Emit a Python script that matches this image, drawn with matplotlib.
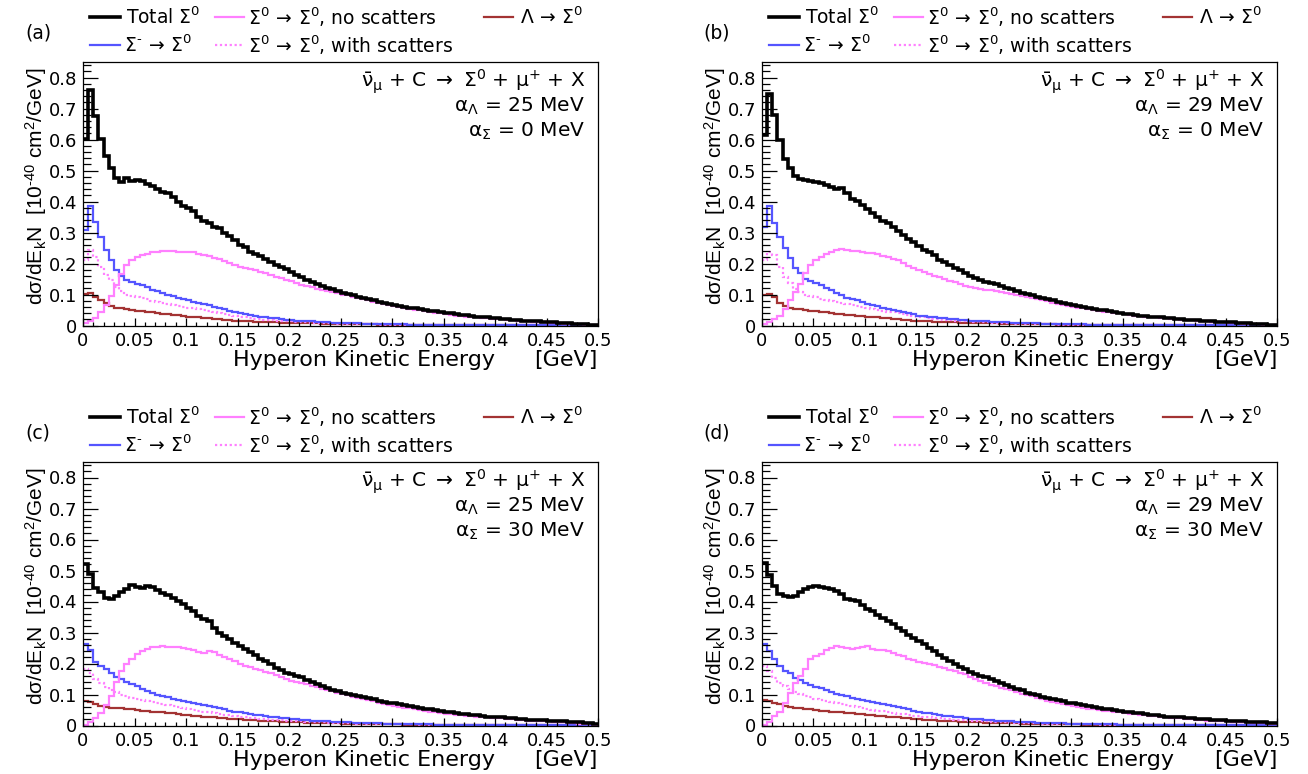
import numpy as np
import matplotlib
matplotlib.use("Agg")
import matplotlib.pyplot as plt
from matplotlib.lines import Line2D
from matplotlib.ticker import MultipleLocator, FuncFormatter

plt.rcParams['font.family'] = ['DejaVu Sans']
plt.rcParams['mathtext.fontset'] = 'dejavusans'
plt.rcParams['mathtext.default'] = 'regular'
plt.rcParams['mathtext.rm'] = 'Liberation Sans'
plt.rcParams['mathtext.it'] = 'Liberation Sans:italic'
plt.rcParams['mathtext.bf'] = 'Liberation Sans:bold'

# ---------------- data (100 bins of 5 MeV from 0 to 0.5 GeV) ----------------
bin_edges = np.linspace(0.0, 0.5, 101)

total_a = [
0.602, 0.760, 0.676, 0.602, 0.548, 0.508, 0.476, 0.462, 0.476, 0.465,
0.470, 0.465, 0.457, 0.451, 0.440, 0.432, 0.427, 0.414, 0.400, 0.386,
0.378, 0.368, 0.351, 0.338, 0.332, 0.319, 0.314, 0.297, 0.289, 0.276,
0.259, 0.252, 0.238, 0.232, 0.224, 0.215, 0.204, 0.196, 0.189, 0.181,
0.173, 0.164, 0.155, 0.148, 0.141, 0.134, 0.127, 0.122, 0.117, 0.111,
0.106, 0.102, 0.097, 0.093, 0.090, 0.085, 0.081, 0.077, 0.073, 0.070,
0.067, 0.064, 0.061, 0.058, 0.056, 0.053, 0.050, 0.048, 0.046, 0.044,
0.041, 0.039, 0.037, 0.035, 0.033, 0.031, 0.029, 0.028, 0.026, 0.025,
0.024, 0.022, 0.021, 0.019, 0.018, 0.016, 0.015, 0.014, 0.013, 0.012,
0.011, 0.010, 0.009, 0.008, 0.007, 0.006, 0.005, 0.004, 0.003, 0.003]
nosc_a = [
0.008, 0.015, 0.025, 0.045, 0.065, 0.095, 0.130, 0.165, 0.195, 0.212,
0.222, 0.228, 0.232, 0.236, 0.238, 0.240, 0.240, 0.239, 0.238, 0.237,
0.238, 0.236, 0.232, 0.228, 0.223, 0.218, 0.213, 0.207, 0.201, 0.195,
0.190, 0.186, 0.183, 0.178, 0.173, 0.168, 0.163, 0.158, 0.152, 0.147,
0.142, 0.136, 0.131, 0.127, 0.123, 0.119, 0.115, 0.111, 0.108, 0.104,
0.100, 0.097, 0.093, 0.089, 0.085, 0.081, 0.077, 0.073, 0.070, 0.066,
0.062, 0.059, 0.056, 0.053, 0.051, 0.049, 0.046, 0.044, 0.041, 0.039,
0.036, 0.034, 0.032, 0.030, 0.029, 0.027, 0.026, 0.025, 0.023, 0.022,
0.021, 0.020, 0.018, 0.017, 0.016, 0.014, 0.013, 0.012, 0.011, 0.010,
0.009, 0.008, 0.007, 0.006, 0.005, 0.005, 0.004, 0.003, 0.003, 0.002]
withsc_a = [
0.210, 0.243, 0.222, 0.190, 0.162, 0.146, 0.124, 0.110, 0.100, 0.096,
0.092, 0.088, 0.084, 0.080, 0.077, 0.073, 0.070, 0.067, 0.064, 0.061,
0.058, 0.055, 0.052, 0.049, 0.046, 0.043, 0.040, 0.036, 0.033, 0.030,
0.028, 0.026, 0.024, 0.022, 0.020, 0.019, 0.017, 0.016, 0.015, 0.014,
0.013, 0.012, 0.011, 0.010, 0.009, 0.009, 0.008, 0.007, 0.007, 0.006,
0.006, 0.005, 0.005, 0.005, 0.004, 0.004, 0.004, 0.003, 0.003, 0.003,
0.003, 0.003, 0.002, 0.002, 0.002, 0.002, 0.002, 0.002, 0.002, 0.002,
0.001, 0.001, 0.001, 0.001, 0.001, 0.001, 0.001, 0.001, 0.001, 0.001,
0.001, 0.001, 0.001, 0.001, 0.001, 0.001, 0.001, 0.001, 0.001, 0.001,
0.001, 0.001, 0.001, 0.001, 0.001, 0.000, 0.000, 0.000, 0.000, 0.000]
sigm_a = [
0.308, 0.386, 0.335, 0.286, 0.243, 0.210, 0.178, 0.159, 0.146, 0.140,
0.135, 0.130, 0.124, 0.116, 0.110, 0.105, 0.099, 0.094, 0.090, 0.085,
0.081, 0.077, 0.073, 0.069, 0.065, 0.061, 0.057, 0.053, 0.048, 0.044,
0.040, 0.037, 0.034, 0.031, 0.029, 0.027, 0.025, 0.023, 0.021, 0.019,
0.017, 0.016, 0.015, 0.014, 0.013, 0.012, 0.011, 0.010, 0.009, 0.009,
0.008, 0.008, 0.007, 0.007, 0.006, 0.006, 0.005, 0.005, 0.005, 0.004,
0.004, 0.004, 0.004, 0.003, 0.003, 0.003, 0.003, 0.003, 0.002, 0.002,
0.002, 0.002, 0.002, 0.002, 0.002, 0.002, 0.001, 0.001, 0.001, 0.001,
0.001, 0.001, 0.001, 0.001, 0.001, 0.001, 0.001, 0.001, 0.001, 0.001,
0.001, 0.001, 0.001, 0.000, 0.000, 0.000, 0.000, 0.000, 0.000, 0.000]
lam_a = [
0.103, 0.106, 0.092, 0.081, 0.072, 0.062, 0.058, 0.055, 0.052, 0.050,
0.048, 0.046, 0.044, 0.042, 0.040, 0.038, 0.036, 0.034, 0.033, 0.031,
0.029, 0.028, 0.026, 0.025, 0.023, 0.022, 0.020, 0.018, 0.017, 0.016,
0.015, 0.014, 0.013, 0.012, 0.012, 0.011, 0.010, 0.010, 0.009, 0.009,
0.009, 0.008, 0.008, 0.007, 0.007, 0.007, 0.006, 0.006, 0.006, 0.005,
0.005, 0.005, 0.005, 0.004, 0.004, 0.004, 0.004, 0.003, 0.003, 0.003,
0.003, 0.003, 0.003, 0.002, 0.002, 0.002, 0.002, 0.002, 0.002, 0.002,
0.002, 0.002, 0.002, 0.002, 0.002, 0.002, 0.002, 0.002, 0.002, 0.002,
0.001, 0.001, 0.001, 0.001, 0.001, 0.001, 0.001, 0.001, 0.001, 0.001,
0.001, 0.001, 0.001, 0.001, 0.001, 0.000, 0.000, 0.000, 0.000, 0.000]

total_b = [
0.616, 0.746, 0.678, 0.600, 0.537, 0.508, 0.481, 0.472, 0.468, 0.465,
0.462, 0.459, 0.454, 0.446, 0.440, 0.443, 0.427, 0.408, 0.403, 0.389,
0.375, 0.362, 0.349, 0.338, 0.330, 0.319, 0.306, 0.292, 0.278, 0.268,
0.257, 0.245, 0.238, 0.226, 0.212, 0.204, 0.196, 0.187, 0.178, 0.170,
0.161, 0.153, 0.146, 0.141, 0.137, 0.133, 0.127, 0.122, 0.117, 0.112,
0.106, 0.101, 0.097, 0.093, 0.089, 0.085, 0.081, 0.076, 0.072, 0.069,
0.065, 0.062, 0.059, 0.057, 0.054, 0.051, 0.049, 0.046, 0.044, 0.041,
0.038, 0.036, 0.034, 0.032, 0.031, 0.029, 0.027, 0.026, 0.024, 0.023,
0.022, 0.021, 0.019, 0.018, 0.017, 0.015, 0.014, 0.013, 0.012, 0.011,
0.011, 0.010, 0.009, 0.008, 0.007, 0.006, 0.005, 0.004, 0.003, 0.003]
nosc_b = [
0.005, 0.010, 0.020, 0.032, 0.054, 0.081, 0.108, 0.135, 0.168, 0.195,
0.211, 0.222, 0.230, 0.238, 0.243, 0.246, 0.242, 0.239, 0.241, 0.238,
0.235, 0.233, 0.230, 0.225, 0.220, 0.216, 0.210, 0.202, 0.192, 0.186,
0.180, 0.172, 0.165, 0.160, 0.155, 0.150, 0.145, 0.140, 0.134, 0.129,
0.125, 0.121, 0.118, 0.115, 0.113, 0.110, 0.107, 0.104, 0.102, 0.098,
0.095, 0.092, 0.088, 0.085, 0.081, 0.078, 0.074, 0.070, 0.067, 0.064,
0.061, 0.058, 0.055, 0.052, 0.050, 0.047, 0.045, 0.043, 0.041, 0.039,
0.036, 0.034, 0.032, 0.031, 0.029, 0.027, 0.026, 0.024, 0.023, 0.022,
0.021, 0.019, 0.018, 0.017, 0.016, 0.014, 0.013, 0.012, 0.011, 0.010,
0.009, 0.008, 0.007, 0.006, 0.005, 0.005, 0.004, 0.003, 0.003, 0.002]
withsc_b = [
0.211, 0.238, 0.227, 0.190, 0.157, 0.137, 0.119, 0.108, 0.100, 0.095,
0.091, 0.087, 0.083, 0.079, 0.076, 0.072, 0.069, 0.066, 0.063, 0.060,
0.057, 0.054, 0.051, 0.048, 0.045, 0.042, 0.039, 0.036, 0.033, 0.030,
0.028, 0.026, 0.024, 0.022, 0.020, 0.019, 0.017, 0.016, 0.015, 0.014,
0.013, 0.012, 0.011, 0.010, 0.009, 0.009, 0.008, 0.007, 0.007, 0.006,
0.006, 0.005, 0.005, 0.005, 0.004, 0.004, 0.004, 0.003, 0.003, 0.003,
0.003, 0.003, 0.002, 0.002, 0.002, 0.002, 0.002, 0.002, 0.002, 0.002,
0.001, 0.001, 0.001, 0.001, 0.001, 0.001, 0.001, 0.001, 0.001, 0.001,
0.001, 0.001, 0.001, 0.001, 0.001, 0.001, 0.001, 0.001, 0.001, 0.001,
0.001, 0.001, 0.001, 0.001, 0.001, 0.000, 0.000, 0.000, 0.000, 0.000]
sigm_b = [
0.319, 0.384, 0.332, 0.286, 0.249, 0.219, 0.184, 0.168, 0.151, 0.144,
0.137, 0.130, 0.122, 0.114, 0.105, 0.098, 0.090, 0.085, 0.081, 0.076,
0.070, 0.066, 0.062, 0.058, 0.054, 0.050, 0.046, 0.043, 0.040, 0.036,
0.032, 0.030, 0.028, 0.027, 0.025, 0.023, 0.022, 0.020, 0.019, 0.017,
0.016, 0.015, 0.014, 0.013, 0.012, 0.011, 0.010, 0.010, 0.009, 0.008,
0.008, 0.008, 0.007, 0.007, 0.006, 0.006, 0.005, 0.005, 0.005, 0.004,
0.004, 0.004, 0.004, 0.003, 0.003, 0.003, 0.003, 0.003, 0.002, 0.002,
0.002, 0.002, 0.002, 0.002, 0.002, 0.002, 0.001, 0.001, 0.001, 0.001,
0.001, 0.001, 0.001, 0.001, 0.001, 0.001, 0.001, 0.001, 0.001, 0.001,
0.001, 0.001, 0.001, 0.000, 0.000, 0.000, 0.000, 0.000, 0.000, 0.000]
lam_b = [
0.097, 0.103, 0.092, 0.072, 0.062, 0.057, 0.054, 0.052, 0.050, 0.048,
0.046, 0.044, 0.042, 0.040, 0.038, 0.037, 0.035, 0.033, 0.032, 0.030,
0.029, 0.027, 0.026, 0.024, 0.023, 0.021, 0.020, 0.018, 0.017, 0.016,
0.015, 0.014, 0.013, 0.012, 0.012, 0.011, 0.010, 0.010, 0.009, 0.009,
0.009, 0.008, 0.008, 0.007, 0.007, 0.007, 0.006, 0.006, 0.006, 0.005,
0.005, 0.005, 0.005, 0.004, 0.004, 0.004, 0.004, 0.003, 0.003, 0.003,
0.003, 0.003, 0.003, 0.002, 0.002, 0.002, 0.002, 0.002, 0.002, 0.002,
0.002, 0.002, 0.002, 0.002, 0.002, 0.002, 0.002, 0.002, 0.002, 0.002,
0.001, 0.001, 0.001, 0.001, 0.001, 0.001, 0.001, 0.001, 0.001, 0.001,
0.001, 0.001, 0.001, 0.001, 0.001, 0.000, 0.000, 0.000, 0.000, 0.000]

total_c = [
0.520, 0.488, 0.445, 0.431, 0.412, 0.407, 0.418, 0.431, 0.441, 0.452,
0.448, 0.445, 0.450, 0.448, 0.437, 0.428, 0.420, 0.412, 0.402, 0.391,
0.380, 0.369, 0.353, 0.342, 0.337, 0.315, 0.299, 0.288, 0.280, 0.267,
0.256, 0.248, 0.237, 0.226, 0.215, 0.208, 0.197, 0.186, 0.179, 0.170,
0.166, 0.161, 0.155, 0.148, 0.140, 0.133, 0.127, 0.121, 0.115, 0.111,
0.106, 0.102, 0.099, 0.095, 0.091, 0.088, 0.084, 0.080, 0.077, 0.074,
0.071, 0.068, 0.065, 0.062, 0.059, 0.057, 0.054, 0.052, 0.050, 0.047,
0.044, 0.042, 0.040, 0.038, 0.036, 0.034, 0.033, 0.031, 0.029, 0.028,
0.027, 0.026, 0.024, 0.023, 0.022, 0.021, 0.019, 0.018, 0.017, 0.017,
0.016, 0.015, 0.014, 0.013, 0.012, 0.011, 0.010, 0.009, 0.007, 0.005]
nosc_c = [
0.003, 0.012, 0.025, 0.040, 0.065, 0.095, 0.140, 0.175, 0.200, 0.215,
0.230, 0.240, 0.248, 0.252, 0.253, 0.255, 0.254, 0.253, 0.252, 0.250,
0.247, 0.243, 0.238, 0.235, 0.240, 0.237, 0.228, 0.222, 0.215, 0.208,
0.200, 0.192, 0.188, 0.183, 0.178, 0.173, 0.168, 0.162, 0.156, 0.150,
0.145, 0.141, 0.137, 0.133, 0.128, 0.124, 0.119, 0.115, 0.110, 0.106,
0.101, 0.097, 0.093, 0.089, 0.085, 0.081, 0.078, 0.074, 0.070, 0.067,
0.064, 0.061, 0.058, 0.055, 0.052, 0.050, 0.047, 0.045, 0.042, 0.040,
0.038, 0.036, 0.034, 0.033, 0.031, 0.030, 0.029, 0.027, 0.026, 0.025,
0.024, 0.023, 0.021, 0.020, 0.019, 0.018, 0.016, 0.015, 0.014, 0.013,
0.013, 0.012, 0.011, 0.010, 0.009, 0.008, 0.006, 0.005, 0.004, 0.003]
withsc_c = [
0.181, 0.170, 0.149, 0.138, 0.125, 0.114, 0.108, 0.100, 0.095, 0.089,
0.086, 0.082, 0.078, 0.075, 0.071, 0.068, 0.065, 0.062, 0.059, 0.056,
0.053, 0.050, 0.047, 0.045, 0.042, 0.040, 0.037, 0.035, 0.033, 0.031,
0.029, 0.027, 0.025, 0.024, 0.022, 0.021, 0.019, 0.018, 0.017, 0.016,
0.015, 0.014, 0.013, 0.012, 0.011, 0.011, 0.010, 0.009, 0.009, 0.008,
0.008, 0.007, 0.007, 0.006, 0.006, 0.006, 0.005, 0.005, 0.005, 0.004,
0.004, 0.004, 0.004, 0.004, 0.004, 0.003, 0.003, 0.003, 0.003, 0.003,
0.003, 0.003, 0.002, 0.002, 0.002, 0.002, 0.002, 0.002, 0.002, 0.002,
0.002, 0.002, 0.002, 0.002, 0.001, 0.001, 0.001, 0.001, 0.001, 0.001,
0.001, 0.001, 0.001, 0.001, 0.001, 0.001, 0.001, 0.001, 0.001, 0.000]
sigm_c = [
0.262, 0.245, 0.205, 0.192, 0.181, 0.168, 0.157, 0.149, 0.141, 0.135,
0.127, 0.118, 0.111, 0.105, 0.100, 0.095, 0.091, 0.086, 0.082, 0.079,
0.075, 0.072, 0.069, 0.066, 0.063, 0.060, 0.056, 0.052, 0.048, 0.045,
0.042, 0.039, 0.037, 0.035, 0.033, 0.031, 0.029, 0.027, 0.025, 0.023,
0.021, 0.020, 0.019, 0.018, 0.016, 0.015, 0.014, 0.013, 0.012, 0.011,
0.010, 0.010, 0.009, 0.009, 0.008, 0.008, 0.007, 0.007, 0.006, 0.006,
0.006, 0.005, 0.005, 0.005, 0.004, 0.004, 0.004, 0.004, 0.003, 0.003,
0.003, 0.003, 0.003, 0.003, 0.002, 0.002, 0.002, 0.002, 0.002, 0.002,
0.002, 0.002, 0.002, 0.001, 0.001, 0.001, 0.001, 0.001, 0.001, 0.001,
0.001, 0.001, 0.001, 0.001, 0.001, 0.001, 0.001, 0.001, 0.000, 0.000]
lam_c = [
0.079, 0.076, 0.068, 0.062, 0.060, 0.058, 0.057, 0.056, 0.054, 0.052,
0.050, 0.048, 0.046, 0.045, 0.043, 0.042, 0.040, 0.039, 0.037, 0.035,
0.034, 0.032, 0.031, 0.029, 0.028, 0.026, 0.025, 0.023, 0.022, 0.021,
0.020, 0.019, 0.018, 0.017, 0.016, 0.015, 0.014, 0.013, 0.012, 0.012,
0.011, 0.010, 0.010, 0.009, 0.009, 0.008, 0.008, 0.007, 0.007, 0.007,
0.006, 0.006, 0.006, 0.005, 0.005, 0.005, 0.005, 0.004, 0.004, 0.004,
0.004, 0.004, 0.003, 0.003, 0.003, 0.003, 0.003, 0.003, 0.003, 0.003,
0.002, 0.002, 0.002, 0.002, 0.002, 0.002, 0.002, 0.002, 0.002, 0.002,
0.002, 0.002, 0.001, 0.001, 0.001, 0.001, 0.001, 0.001, 0.001, 0.001,
0.001, 0.001, 0.001, 0.001, 0.001, 0.001, 0.001, 0.000, 0.000, 0.000]

total_d = [
0.525, 0.484, 0.450, 0.423, 0.418, 0.414, 0.418, 0.431, 0.441, 0.448,
0.450, 0.448, 0.445, 0.441, 0.434, 0.423, 0.409, 0.405, 0.402, 0.388,
0.377, 0.369, 0.358, 0.348, 0.337, 0.326, 0.315, 0.305, 0.292, 0.282,
0.272, 0.262, 0.250, 0.240, 0.229, 0.219, 0.208, 0.197, 0.190, 0.181,
0.174, 0.167, 0.161, 0.155, 0.149, 0.143, 0.137, 0.131, 0.125, 0.119,
0.113, 0.106, 0.102, 0.098, 0.093, 0.089, 0.085, 0.081, 0.078, 0.074,
0.072, 0.069, 0.066, 0.063, 0.059, 0.057, 0.054, 0.052, 0.050, 0.047,
0.044, 0.042, 0.040, 0.039, 0.037, 0.035, 0.033, 0.031, 0.029, 0.028,
0.027, 0.026, 0.024, 0.023, 0.022, 0.021, 0.020, 0.019, 0.018, 0.017,
0.016, 0.015, 0.014, 0.013, 0.012, 0.012, 0.011, 0.010, 0.009, 0.009]
nosc_d = [
0.003, 0.010, 0.030, 0.045, 0.073, 0.105, 0.138, 0.160, 0.181, 0.213,
0.224, 0.232, 0.245, 0.250, 0.256, 0.254, 0.251, 0.248, 0.251, 0.254,
0.256, 0.248, 0.245, 0.243, 0.240, 0.235, 0.229, 0.224, 0.215, 0.210,
0.206, 0.202, 0.198, 0.194, 0.190, 0.184, 0.180, 0.175, 0.170, 0.165,
0.158, 0.150, 0.144, 0.138, 0.132, 0.127, 0.122, 0.118, 0.114, 0.109,
0.103, 0.098, 0.094, 0.089, 0.084, 0.080, 0.076, 0.073, 0.069, 0.066,
0.063, 0.060, 0.057, 0.054, 0.052, 0.050, 0.048, 0.046, 0.044, 0.042,
0.040, 0.038, 0.036, 0.034, 0.033, 0.031, 0.030, 0.028, 0.027, 0.025,
0.024, 0.023, 0.021, 0.020, 0.019, 0.018, 0.016, 0.015, 0.014, 0.013,
0.013, 0.012, 0.011, 0.010, 0.010, 0.009, 0.008, 0.007, 0.006, 0.005]
withsc_d = [
0.192, 0.175, 0.154, 0.138, 0.127, 0.117, 0.109, 0.102, 0.096, 0.091,
0.087, 0.083, 0.079, 0.076, 0.072, 0.069, 0.066, 0.063, 0.060, 0.057,
0.054, 0.051, 0.048, 0.046, 0.043, 0.041, 0.038, 0.036, 0.034, 0.032,
0.030, 0.028, 0.026, 0.025, 0.023, 0.022, 0.020, 0.019, 0.018, 0.017,
0.016, 0.015, 0.014, 0.013, 0.012, 0.011, 0.011, 0.010, 0.009, 0.009,
0.008, 0.008, 0.007, 0.007, 0.006, 0.006, 0.006, 0.005, 0.005, 0.005,
0.004, 0.004, 0.004, 0.004, 0.004, 0.003, 0.003, 0.003, 0.003, 0.003,
0.003, 0.003, 0.002, 0.002, 0.002, 0.002, 0.002, 0.002, 0.002, 0.002,
0.002, 0.002, 0.002, 0.002, 0.001, 0.001, 0.001, 0.001, 0.001, 0.001,
0.001, 0.001, 0.001, 0.001, 0.001, 0.001, 0.001, 0.001, 0.001, 0.000]
sigm_d = [
0.262, 0.240, 0.213, 0.192, 0.175, 0.168, 0.154, 0.146, 0.138, 0.131,
0.125, 0.120, 0.114, 0.108, 0.103, 0.099, 0.095, 0.090, 0.086, 0.082,
0.079, 0.076, 0.073, 0.070, 0.067, 0.064, 0.060, 0.056, 0.052, 0.048,
0.044, 0.041, 0.039, 0.036, 0.034, 0.032, 0.030, 0.028, 0.026, 0.024,
0.022, 0.021, 0.020, 0.018, 0.017, 0.016, 0.015, 0.014, 0.013, 0.012,
0.011, 0.010, 0.010, 0.009, 0.009, 0.008, 0.008, 0.007, 0.007, 0.006,
0.006, 0.006, 0.005, 0.005, 0.005, 0.004, 0.004, 0.004, 0.004, 0.003,
0.003, 0.003, 0.003, 0.003, 0.002, 0.002, 0.002, 0.002, 0.002, 0.002,
0.002, 0.002, 0.002, 0.001, 0.001, 0.001, 0.001, 0.001, 0.001, 0.001,
0.001, 0.001, 0.001, 0.001, 0.001, 0.001, 0.001, 0.001, 0.000, 0.000]
lam_d = [
0.082, 0.079, 0.073, 0.068, 0.063, 0.060, 0.058, 0.056, 0.054, 0.052,
0.050, 0.048, 0.047, 0.045, 0.044, 0.042, 0.041, 0.039, 0.038, 0.036,
0.035, 0.033, 0.032, 0.030, 0.029, 0.027, 0.026, 0.024, 0.023, 0.022,
0.020, 0.019, 0.018, 0.017, 0.016, 0.015, 0.014, 0.013, 0.012, 0.012,
0.011, 0.010, 0.010, 0.009, 0.009, 0.008, 0.008, 0.007, 0.007, 0.007,
0.006, 0.006, 0.006, 0.005, 0.005, 0.005, 0.005, 0.004, 0.004, 0.004,
0.004, 0.004, 0.003, 0.003, 0.003, 0.003, 0.003, 0.003, 0.003, 0.003,
0.002, 0.002, 0.002, 0.002, 0.002, 0.002, 0.002, 0.002, 0.002, 0.002,
0.002, 0.002, 0.001, 0.001, 0.001, 0.001, 0.001, 0.001, 0.001, 0.001,
0.001, 0.001, 0.001, 0.001, 0.001, 0.001, 0.001, 0.000, 0.000, 0.000]

panel_labels = ['(a)', '(b)', '(c)', '(d)']
alpha_lambda = [25, 29, 25, 29]
alpha_sigma = [0, 0, 30, 30]
panels = [
    (total_a, nosc_a, withsc_a, sigm_a, lam_a),
    (total_b, nosc_b, withsc_b, sigm_b, lam_b),
    (total_c, nosc_c, withsc_c, sigm_c, lam_c),
    (total_d, nosc_d, withsc_d, sigm_d, lam_d),
]
x_ticks = [0, 0.05, 0.1, 0.15, 0.2, 0.25, 0.3, 0.35, 0.4, 0.45, 0.5]
y_ticks = [0, 0.1, 0.2, 0.3, 0.4, 0.5, 0.6, 0.7, 0.8]

# ---------------- style ----------------
C_TOTAL = '#000000'
C_PINK = '#ff80ff'
C_BLUE = '#5555ff'
C_BROWN = '#a33333'
HY = '\u2010'   # short hyphen used in superscripts

W, H = 1308, 774
fig = plt.figure(figsize=(W / 100, H / 100), dpi=100)


def fx(x):
    return x / W


def fy(y):
    return 1 - y / H


def fmt(v, pos):
    return ('%g' % round(v, 3))


for k in range(4):
    dx = 0 if k % 2 == 0 else 679
    dy = 0 if k < 2 else 400
    left, right, top, bottom = 83 + dx, 598 + dx, 62 + dy, 325.5 + dy
    ax = fig.add_axes([fx(left), fy(bottom), (right - left) / W, (bottom - top) / H])
    tot, nosc, wsc, sgm, lam = panels[k]
    ax.stairs(lam, bin_edges, color=C_BROWN, lw=1.6, baseline=None)
    ax.stairs(wsc, bin_edges, color=C_PINK, lw=1.6, ls=(0, (1.0, 1.2)), baseline=None)
    ax.stairs(sgm, bin_edges, color=C_BLUE, lw=1.6, baseline=None)
    ax.stairs(nosc, bin_edges, color=C_PINK, lw=1.6, baseline=None)
    ax.stairs(tot, bin_edges, color=C_TOTAL, lw=2.6, baseline=None)
    ax.set_xlim(0, 0.5)
    ax.set_ylim(0, 0.85)
    ax.set_xticks(x_ticks)
    ax.set_yticks(y_ticks)
    ax.xaxis.set_minor_locator(MultipleLocator(0.01))
    ax.yaxis.set_minor_locator(MultipleLocator(0.02))
    ax.xaxis.set_major_formatter(FuncFormatter(fmt))
    ax.yaxis.set_major_formatter(FuncFormatter(fmt))
    ax.tick_params(axis='both', which='both', direction='in', labelsize=13, width=0.9,
                   top=False, right=False)
    ax.tick_params(axis='x', which='major', length=6, pad=5)
    ax.tick_params(axis='x', which='minor', length=3)
    ax.tick_params(axis='y', which='major', length=11, pad=4)
    ax.tick_params(axis='y', which='minor', length=5.5)
    for s in ax.spines.values():
        s.set_linewidth(0.9)

    # panel label
    fig.text(fx(38 + dx), fy(33 + dy), panel_labels[k], fontsize=13.5, ha='center', va='center')

    # legend
    r1, r2 = 17 + dy, 45 + dy
    entries = [
        (90, 120, r1, C_TOTAL, '-', 2.6, r'Total $\Sigma^{0}$', 126),
        (215, 244, r1, C_PINK, '-', 1.6, r'$\Sigma^{0}\,\rightarrow\,\Sigma^{0}$, no scatters', 248),
        (484, 513, r1, C_BROWN, '-', 1.6, r'$\Lambda\,\rightarrow\,\Sigma^{0}$', 520),
        (90, 120, r2, C_BLUE, '-', 1.6, r'$\Sigma^{' + HY + r'}\,\rightarrow\,\Sigma^{0}$', 124),
        (215, 244, r2, C_PINK, (0, (1.0, 1.2)), 1.6,
         r'$\Sigma^{0}\,\rightarrow\,\Sigma^{0}$, with scatters', 248),
    ]
    for x1, x2, yy, col, ls, lw, lab, xt in entries:
        fig.add_artist(Line2D([fx(x1 + dx), fx(x2 + dx)], [fy(yy), fy(yy)],
                              color=col, ls=ls, lw=lw, transform=fig.transFigure))
        fig.text(fx(xt + dx), fy(yy), lab, fontsize=13.5, ha='left', va='center')

    # annotations
    fig.text(fx(585 + dx), fy(87 + dy),
             r'$\bar{\nu}_{\mu}$ + C $\rightarrow$ $\Sigma^{0}$ + $\mu^{+}$ + X',
             fontsize=14.5, ha='right', va='baseline')
    fig.text(fx(585 + dx), fy(112 + dy), r'$\alpha_{\Lambda}$ = %d MeV' % alpha_lambda[k],
             fontsize=14.5, ha='right', va='baseline')
    fig.text(fx(585 + dx), fy(137 + dy), r'$\alpha_{\Sigma}$ = %d MeV' % alpha_sigma[k],
             fontsize=14.5, ha='right', va='baseline')

    # axis titles
    fig.text(fx(36 + dx), fy(186 + dy),
             r'd$\sigma$/dE$_{k}$N  [10$^{' + HY + r'40}$ cm$^{2}$/GeV]',
             fontsize=15, rotation=90, ha='center', va='center',
             family='Liberation Sans', math_fontfamily='custom')
    fig.text(fx(495 + dx), fy(366 + dy), 'Hyperon Kinetic Energy',
             fontsize=16, ha='right', va='baseline')
    fig.text(fx(598 + dx), fy(366 + dy), '[GeV]',
             fontsize=16, ha='right', va='baseline')

fig.savefig('out.png', dpi=100)
